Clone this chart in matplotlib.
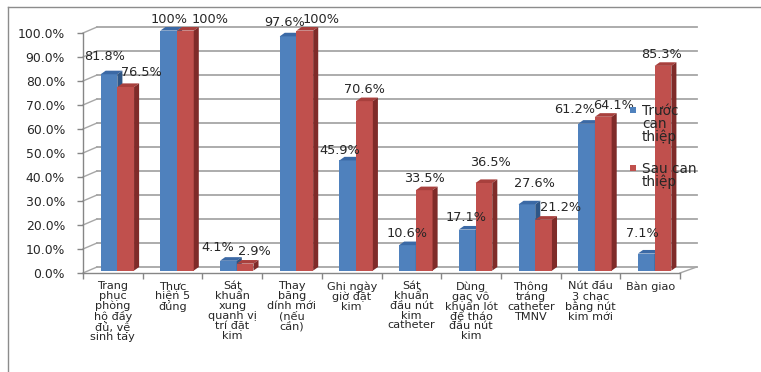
import matplotlib
matplotlib.use('Agg')
import matplotlib.pyplot as plt
from matplotlib.patches import Polygon, Rectangle
from matplotlib.lines import Line2D
import numpy as np

plt.rcParams['font.family'] = ['DejaVu Sans']

# Data
categories = [
    "Trang\nphục\nphòng\nhộ đầy\nđủ, vệ\nsinh tay",
    "Thực\nhiện 5\nđúng",
    "Sát\nkhuẩn\nxung\nquanh vị\ntrí đặt\nkim",
    "Thay\nbăng\ndính mới\n(nếu\ncần)",
    "Ghi ngày\ngiờ đặt\nkim",
    "Sát\nkhuẩn\nđầu nút\nkim\ncatheter",
    "Dùng\ngạc vô\nkhuẩn lót\nđể tháo\nđầu nút\nkim",
    "Thông\ntráng\ncatheter\nTMNV",
    "Nút đầu\n3 chạc\nbằng nút\nkim mới",
    "Bàn giao",
]
before = [81.8, 100, 4.1, 97.6, 45.9, 10.6, 17.1, 27.6, 61.2, 7.1]
after = [76.5, 100, 2.9, 100, 70.6, 33.5, 36.5, 21.2, 64.1, 85.3]
before_labels = ["81.8%", "100%", "4.1%", "97.6%", "45.9%", "10.6%", "17.1%", "27.6%", "61.2%", "7.1%"]
after_labels = ["76.5%", "100%", "2.9%", "100%", "70.6%", "33.5%", "36.5%", "21.2%", "64.1%", "85.3%"]

# label nudges in pixels (dx, dy above bar top)
before_nudge = [(-4, 18), (0, 11), (-11, 13), (-3, 14), (-8, 10), (0, 12), (-1, 12), (8, 21), (-12, 14), (-4, 20)]
after_nudge = [(16, 15), (25, 11), (9, 12), (16, 11), (0, 12), (0, 12), (7, 20), (17, 12), (10, 11), (-1, 11)]

W, H = 761, 372
fig = plt.figure(figsize=(W / 100, H / 100), dpi=100)
fig.patch.set_facecolor('white')

# axes box in pixels: x 83..680, 0% at y=273, 100% at y=33
ax = fig.add_axes([83 / W, 1 - 273 / H, (680 - 83) / W, (273 - 33) / H])
ax.set_xlim(-0.5, 9.5)
ax.set_ylim(0, 100)
ax.patch.set_visible(False)

grid_c = '#a6a6a6'
wall_dx, wall_dy = 0.235, 2.5      # back wall offset (data units)
bar_dx, bar_dy = 0.085, 1.5        # bar depth
base_dx, base_dy = 0.075, 1.0      # bars sit slightly behind the front edge
bw = 0.28

# back wall gridlines and left wall diagonals
for v in range(0, 101, 10):
    ax.plot([-0.5 + wall_dx, 9.5 + wall_dx + 0.045], [v + wall_dy, v + wall_dy],
            color=grid_c, lw=1.3, clip_on=False, zorder=1)
    ax.plot([-0.5, -0.5 + wall_dx], [v, v + wall_dy], color=grid_c, lw=1.0,
            clip_on=False, zorder=1)
# floor right edge
ax.plot([9.5, 9.5 + wall_dx + 0.045], [0, wall_dy], color=grid_c, lw=1.0, clip_on=False, zorder=1)

x = np.arange(len(categories))


def draw_bars(xs, vals, front, top, side):
    ax.bar(xs, vals, width=bw, bottom=base_dy, color=front, zorder=3, clip_on=False)
    for xi, v in zip(xs, vals):
        l, r, t = xi - bw / 2, xi + bw / 2, v + base_dy
        ax.add_patch(Polygon([(l, t), (r, t), (r + bar_dx, t + bar_dy), (l + bar_dx, t + bar_dy)],
                             closed=True, facecolor=top, edgecolor='none', zorder=3, clip_on=False))
        ax.add_patch(Polygon([(r, base_dy), (r + bar_dx, base_dy + bar_dy), (r + bar_dx, t + bar_dy), (r, t)],
                             closed=True, facecolor=side, edgecolor='none', zorder=3, clip_on=False))


xb = x + base_dx - bw / 2
xa = x + base_dx + bw / 2
draw_bars(xb, before, '#4f81bd', '#3b69a5', '#2e5686')
draw_bars(xa, after, '#c0504d', '#a8403d', '#7f2b29')

# data labels
for xs, vals, labs, nudge in [(xb, before, before_labels, before_nudge),
                              (xa, after, after_labels, after_nudge)]:
    for xi, v, lab, (dx, dy) in zip(xs, vals, labs, nudge):
        ax.annotate(lab, (xi, v + base_dy), xytext=(dx, dy), textcoords='offset pixels',
                    ha='center', va='center', fontsize=9.3, color='#262626',
                    annotation_clip=False, zorder=5)

# axes styling
for s in ['top', 'right']:
    ax.spines[s].set_visible(False)
for s in ['left', 'bottom']:
    ax.spines[s].set_color('#868686')
    ax.spines[s].set_linewidth(1.0)

ax.set_yticks(range(0, 101, 10))
ax.set_yticklabels([f"{v:.1f}%" for v in range(0, 101, 10)], fontsize=8.9, color='#262626')
ax.tick_params(axis='y', direction='out', length=4, width=1, color='#868686', pad=9)

ax.set_xticks(x)
ax.set_xticklabels(categories, fontsize=8.1, color='#262626')
ax.tick_params(axis='x', which='major', length=0, pad=6)
ax.set_xticks(np.arange(-0.5, 10, 1), minor=True)
ax.tick_params(axis='x', which='minor', direction='out', length=4, width=1, color='#868686')
for lab in ax.get_xticklabels():
    lab.set_linespacing(0.97)

# legend
fig.add_artist(Rectangle((630 / W, 1 - 113 / H), 6 / W, 6 / H, transform=fig.transFigure,
                         facecolor='#4f81bd', edgecolor='none'))
fig.text(642 / W, 1 - 104 / H, "Trước\ncan\nthiệp", fontsize=9.8, va='top', ha='left',
         color='#262626', linespacing=0.9)
fig.add_artist(Rectangle((630 / W, 1 - 171 / H), 6 / W, 6 / H, transform=fig.transFigure,
                         facecolor='#c0504d', edgecolor='none'))
fig.text(642 / W, 1 - 162 / H, "Sau can\nthiệp", fontsize=9.8, va='top', ha='left',
         color='#262626', linespacing=0.9)

# outer frame (top and left edges)
fig.add_artist(Line2D([8 / W, 1], [1 - 7 / H, 1 - 7 / H], transform=fig.transFigure,
                      color='#8c8c8c', lw=1.0))
fig.add_artist(Line2D([8 / W, 8 / W], [0, 1 - 7 / H], transform=fig.transFigure,
                      color='#8c8c8c', lw=1.0))

fig.savefig('out.png', dpi=100)
